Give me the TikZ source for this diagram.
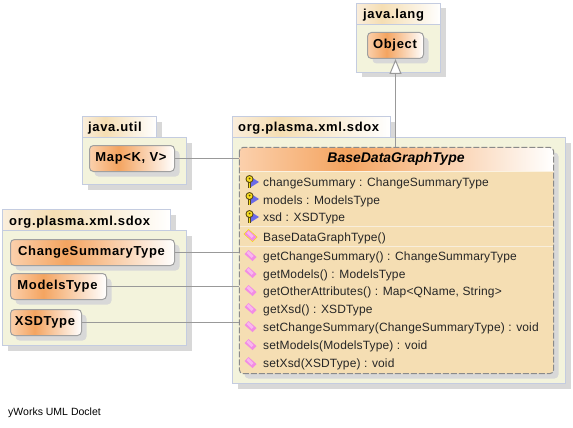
\documentclass[tikz,border=0pt]{standalone}
\usepackage{fontspec}
\setmainfont{Liberation Sans}
\usetikzlibrary{shadows,arrows.meta}
\definecolor{bodyc}{HTML}{F3F3DC}
\definecolor{borderc}{HTML}{C4CCE0}
\definecolor{shadowc}{HTML}{D8D8D8}
\definecolor{linec}{HTML}{999999}
\definecolor{nodeb}{HTML}{A0A0A0}
\definecolor{classc}{HTML}{F5DEB3}
\definecolor{peak}{HTML}{F4A460}
\definecolor{pale}{HTML}{FBD0AC}
\definecolor{tabl}{HTML}{FAEEDC}
\definecolor{sepc}{HTML}{F8EEDC}
\definecolor{keyb}{HTML}{6A6AE8}
\definecolor{keyy}{HTML}{F6DC1E}
\definecolor{keyd}{HTML}{5A4A10}
\definecolor{pinkc}{HTML}{F28CE4}
\definecolor{pinkl}{HTML}{F9B8EE}
\pgfdeclarehorizontalshading{nodeg}{100bp}{color(0bp)=(pale);color(25bp)=(pale);color(42bp)=(peak);color(75bp)=(white);color(100bp)=(white)}
\pgfdeclarehorizontalshading{tabg}{100bp}{color(0bp)=(tabl);color(25bp)=(tabl);color(40bp)=(classc);color(75bp)=(white);color(100bp)=(white)}
\newfontfamily\lab[LetterSpace=1.2]{Liberation Sans}
\newfontfamily\labb[LetterSpace=5]{Liberation Sans Bold}
\newfontfamily\labt{Liberation Sans Bold Italic}
\newcommand{\keyicon}[2]{%
  \fill[keyb] (#1+2,#2-5) -- (#1+10,#2) -- (#1+2,#2+5) -- cycle;
  \draw[keyd,line width=3pt] (#1+0.5,#2-1) -- (#1+0.5,#2+6);
  \draw[keyy,line width=1.6pt] (#1+0.5,#2-1) -- (#1+0.5,#2+5.5);
  \fill[keyd] (#1+0.5,#2-3) circle (4);
  \fill[keyy] (#1+0.5,#2-3) circle (2.9);
  \fill[keyd] (#1+0.5,#2-3.5) circle (1);
}
\newcommand{\penicon}[2]{%
  \fill[pinkc] (#1-6,#2-2) -- (#1-2,#2-6) -- (#1+6,#2+1) -- (#1+2,#2+5) -- cycle;
  \fill[pinkl] (#1-4,#2-3) -- (#1-2,#2-5) -- (#1+3,#2) -- (#1+1,#2+2) -- cycle;
}
\newcommand{\ctoricon}[2]{%
  \fill[keyy] (#1-7,#2-2) -- (#1-2,#2-7) -- (#1+7,#2+1) -- (#1+2,#2+6) -- cycle;
  \penicon{#1}{#2}
}
\tikzset{
  x=1pt,y=-1pt,
  tabbox/.style={shade,shading=tabg,draw=borderc,line width=1pt,minimum height=21pt,inner sep=0pt,
    drop shadow={shadow xshift=5pt,shadow yshift=-5pt,fill=shadowc,opacity=1}},
  groupbody/.style={fill=bodyc,draw=borderc,line width=1pt,inner sep=0pt,
    drop shadow={shadow xshift=5pt,shadow yshift=-5pt,fill=shadowc,opacity=1}},
  tabtext/.style={font=\labb\fontsize{13}{15}\selectfont,anchor=base west,inner sep=0pt},
  typebox/.style={shade,shading=nodeg,draw=nodeb,line width=1pt,rounded corners=4pt,inner sep=0pt,minimum height=26pt,
    font=\labb\fontsize{13}{15}\selectfont,
    drop shadow={shadow xshift=5pt,shadow yshift=-5pt,fill=shadowc,opacity=1}},
  link/.style={draw=linec,line width=1pt},
  member/.style={font=\lab\fontsize{12}{14}\selectfont,anchor=base west,inner sep=0pt,text=black!85},
}
\begin{document}
\begin{tikzpicture}
\useasboundingbox[fill=white] (0,0) rectangle (573,428);
% groups
\node[tabbox,minimum width=84pt] (langtab) at (398.5,14) {};
\node[groupbody,minimum width=84pt,minimum height=48pt] (langbody) at (398.5,48.5) {};
\node[tabtext] (langname) at (363,18.5) {java.lang};
\node[tabbox,minimum width=74pt] (utiltab) at (119.5,127) {};
\node[groupbody,minimum width=104pt,minimum height=47pt] (utilbody) at (134.5,161) {};
\node[tabtext] (utilname) at (88,131) {java.util};
\node[tabbox,minimum width=158pt] (sdoxtab) at (311.5,127) {};
\node[groupbody,minimum width=333pt,minimum height=246pt] (sdoxbody) at (399,260.5) {};
\node[tabtext] (sdoxname) at (238,131) {org.plasma.xml.sdox};
\node[tabbox,minimum width=168pt] (lefttab) at (86.5,220) {};
\node[groupbody,minimum width=184pt,minimum height=115pt] (leftbody) at (94.5,288) {};
\node[tabtext] (leftname) at (9,225) {org.plasma.xml.sdox};
% class box
\node[fill=classc,rounded corners=4pt,minimum width=314pt,minimum height=226pt,inner sep=0pt,
  drop shadow={shadow xshift=5pt,shadow yshift=-5pt,fill=shadowc,opacity=1}] (cls) at (396.5,260.5) {};
\shade[shading=nodeg] (239.5,171) {[rounded corners=4pt] -- (239.5,147.5) -- (553.5,147.5)} -- (553.5,171) -- cycle;
\draw[white!60!classc,line width=1pt] (239.5,171.5) -- (553.5,171.5);
\draw[sepc,line width=1pt] (239.5,226.5) -- (553.5,226.5) (239.5,246.5) -- (553.5,246.5);
\draw[dash pattern=on 6pt off 2pt,draw=linec!90!black,line width=1pt,rounded corners=4pt] (cls.north west) rectangle (cls.south east);
% type nodes
\node[typebox,minimum width=56pt] (obj) at (395.5,45.5) {Object\kern1pt};
\node[typebox,minimum width=85pt] (map) at (132,158.5) {Map<K, V>\kern2pt};
\node[typebox,minimum width=164pt] (cst) at (92.5,252.5) {ChangeSummaryType\kern2pt};
\node[typebox,minimum width=96pt] (mt) at (58.5,286.5) {ModelsType\kern2pt};
\node[typebox,minimum width=71pt] (xt) at (46,322.5) {XSDType\kern2pt};
% connectors
\draw[link] (map.east) -- (map.east -| cls.west);
\draw[link] (cst.east) -- (cst.east -| cls.west);
\draw[link] (mt.east) -- (mt.east -| cls.west);
\draw[link] (xt.east) -- (xt.east -| cls.west);
\draw[link,-{Triangle[open,length=15pt,width=12pt,fill=white]}] (obj.south |- cls.north) -- (obj.south);
% members
\node[font=\labt\fontsize{14}{16}\selectfont,inner sep=0pt] (title) at (396,159) {BaseDataGraphType};
\keyicon{249}{182}\node[member] (m1) at (263,186.5) {changeSummary : ChangeSummaryType};
\keyicon{249}{199}\node[member] (m2) at (263,204) {models : ModelsType};
\keyicon{249}{217}\node[member] (m3) at (263,221.5) {xsd : XSDType};
\ctoricon{250.5}{236}\node[member] (m4) at (263,241) {BaseDataGraphType()};
\penicon{250.5}{256}\node[member] (m5) at (263,260.5) {getChangeSummary() : ChangeSummaryType};
\penicon{250.5}{273}\node[member] (m6) at (263,278) {getModels() : ModelsType};
\penicon{250.5}{291}\node[member] (m7) at (263,295.5) {getOtherAttributes() : Map<QName, String>};
\penicon{250.5}{309}\node[member] (m8) at (263,313.5) {getXsd() : XSDType};
\penicon{250.5}{327}\node[member] (m9) at (263,331.5) {setChangeSummary(ChangeSummaryType) : void};
\penicon{250.5}{345}\node[member] (m10) at (263,349) {setModels(ModelsType) : void};
\penicon{250.5}{363}\node[member] (m11) at (263,367) {setXsd(XSDType) : void};
\node[font=\fontsize{10.5}{13}\selectfont,anchor=base west,inner sep=0pt] (foot) at (8,415) {yWorks UML Doclet};
\end{tikzpicture}
\end{document}
